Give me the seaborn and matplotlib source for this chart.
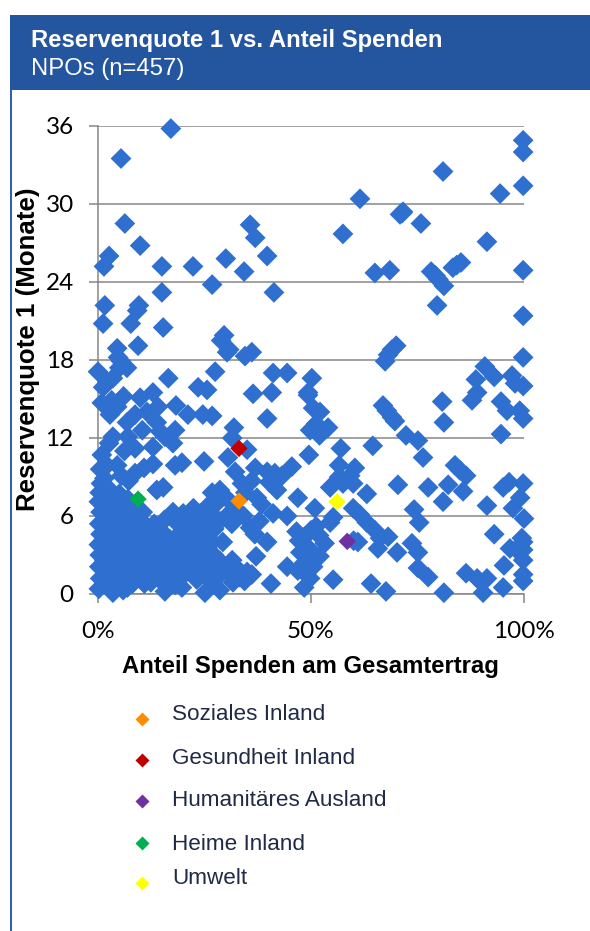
import matplotlib
matplotlib.use("Agg")
import matplotlib.pyplot as plt
from matplotlib.lines import Line2D
from matplotlib.patches import Rectangle
import pandas as pd
import seaborn as sns

W, H = 590, 931
title = "Reservenquote 1 vs. Anteil Spenden"
subtitle = "NPOs (n=457)"
x_label = "Anteil Spenden am Gesamtertrag"
y_label = "Reservenquote 1 (Monate)"
y_ticks = [0, 6, 12, 18, 24, 30, 36]
x_ticks = [0, 50, 100]
x_tick_labels = ["0%", "50%", "100%"]

# (Anteil Spenden %, Reservenquote Monate)
upper = [(17.1,35.8),(5.4,33.5),(6.3,28.5),(9.9,26.8),(2.6,26.0),(1.4,25.2),(15,25.2),(22.3,25.2),(30,25.8),
 (34.3,24.8),(35.7,28.4),(36.9,27.4),(39.7,26),(26.8,23.8),(15,23.2),(41.3,23.2),(1.6,22.2),(9.6,22.2),(9.2,21.8),
 (1.2,20.8),(7.7,20.8),(15.3,20.5),(29.6,19.9),(28.9,19.5),(30.8,18.8),(9.4,19.1),(4.5,18.9),(36.1,18.6),(34.5,18.3),
 (99.8,34.9),(99.8,34),(81,32.5),(99.8,31.4),(94.4,30.8),(61.5,30.4),(71.4,29.3),(71.6,29.4),(70.9,29.2),(75.8,28.5),
 (57.5,27.7),(91.3,27.1),(85.2,25.5),(83.3,25.1),(84.2,25.3),(99.8,24.9),(68.5,24.9),(65,24.7),(78.2,24.8),(79.2,24.5),
 (79.9,24.2),(81.2,23.7),(79.6,22.2),(99.8,21.4),(70,19.1),(69,18.8),(68.1,18.4),(67.4,17.9),(99.8,18.2)]

middle = [(50.2,16.6),(49.3,15.5),(80.8,14.8),(90.8,17.5),(88.7,16.5),(93,16.7),(97.2,16.8),(97.9,16.2),(99.8,16),
 (89,15.5),(87.8,14.9),(94.6,14.8),(49.3,15.3),(52.1,14),(50.5,14.3),(50.5,12.8),(49.8,12.6),(52,12.2),(54,12.8),
 (51.2,13.1),(66.9,14.5),(67.8,14.1),(69,13.6),(69.7,13.3),(81.2,13.2),(96,14.1),(99,14.1),(99.8,13.5),(94.6,12.3),
 (64.5,11.4),(72.3,12.2),(75.1,11.8),(76.3,10.5),(57,11.2),(49.5,10.7),(56.6,9.9),(60.3,9.7),(59.2,9.1),(83.8,9.9),
 (85,9.5),(86.4,9.1),(56.6,9),(54.5,8.2),(57.5,8.5),(59.9,8.5),(70.4,8.4),(77.5,8.2),(82.2,8.4),(85.7,7.9),(81,7.1),
 (63.1,7.7),(95.1,8.2),(96.5,8.6),(99.8,8.5),(99.1,7.4),(97.4,6.6),(91.3,6.8),(74.2,6.5),(50.9,6.6),
 (0,17.1),(4.7,18.2),(6.8,17.4),(5.4,17.9),(5,17.4),(3.5,16.6),(1.2,15.9),(0.9,14.7),(4.5,14.4),(2.8,13.8),(8.7,13.8),
 (6.8,13.2),(14.1,14.4),(13.8,13.2),(18.1,12.6),(14.6,12.5),(17.6,11.6),(3.5,12.1),(7,12.1),(8.7,11.2),(12.9,11.3),
 (15.7,12.1),(16.5,16.6),(27.5,17.1),(30.3,18.6),(41.1,17),(44.4,17),(23.5,15.9),(25.6,15.7),(36.4,15.4),(40.8,15.5),
 (39.7,13.5),(9.9,15.1),(12.9,15.5),(18.3,14.5),(21.1,13.8),(24.6,13.8),(26.8,13.7),(31.9,12.8),(31.5,12),(35,11.1),
 (30.5,10.5),(24.9,10.2),(18.1,9.9),(19.7,10.1),(12.9,10),(32.2,9.4),(36.9,9.7),(39.7,9.4),(41.5,9.3),(45.5,9.8),
 (42,8),(46.9,7.4),(37.3,7.4),(33.8,8.5),(28.6,8),(26.8,7.8),(15.3,8.2),(13.8,8),(0.9,10.7),(4.5,9.9),(8.7,9.3),
 (0.5,9.6),(2.1,9.9),(1.5,8.9),(5.5,9.1),(7.2,8.7),(10.8,9.7),(6.2,11),(2.6,11.6),(10.4,12.6),(11.5,14),(6,15.2),
 (3.2,14.9),(2.2,16.3),(34.6,7.8),(36.1,8.7),(38.4,6.9),(40.2,8.6),(43.2,9.1)]

lower_right = [(75.4,5.5),(100,5.8),(54.5,5.5),(55.2,5.9),(59.9,6.6),(61.5,6.1),(63.1,5.5),(65,4.9),(66.2,4.3),(68.1,4.4),
 (65.7,3.5),(70.2,3.2),(73.7,3.9),(75.1,3.2),(75.1,2),(77.5,1.3),(55.2,1.1),(64.1,0.8),(67.6,0.2),(81.2,0.1),(86.4,1.6),
 (89,1.2),(91.3,1.2),(90.4,0.1),(95.1,0.5),(95.3,2.2),(93,4.6),(96.7,3.5),(99.5,4.3),(99.8,4.0),(99.8,3.4),(99.8,2.6),
 (99.8,1.5),(99.8,1.0),(98.3,3.4),(61,4.0),(60,4.1),(50,4.9),(48.5,4.4),(49.2,3.6),(47.5,3.2),(50.6,3.1),(51.9,4.5),
 (53.2,3.9),(48.4,2.4),(50.5,2.1),(52,2.9),(49.8,1.2),(48.4,0.5),(46.9,1.8),(44.4,2.1),(47.2,4.1),(51.2,5.2),(46.6,4.8)]

left_blob = [(0.2,0.4),(0.5,1.2),(0.3,2.1),(0.4,3.0),(0.2,3.8),(0.6,4.6),(0.3,5.4),(0.6,6.3),(0.2,7.1),(0.4,7.8),(0.7,8.5),
 (1.6,0.8),(1.9,1.7),(1.5,2.6),(1.8,3.4),(1.4,4.2),(1.9,5.1),(1.6,6.0),(1.9,6.9),(1.5,7.6),(2.2,8.2),
 (3.2,0.5),(3.5,0.1),(3.4,1.3),(3.1,2.2),(3.6,3.0),(3.2,3.8),(3.7,4.7),(3.3,5.6),(3.8,6.4),(3.2,7.2),
 (4.9,0.9),(5.2,1.8),(4.7,2.6),(5.1,3.5),(4.8,4.3),(5.3,5.2),(4.9,6.0),(5.4,6.8),(5.9,0.3),(5.0,7.7),
 (6.5,1.3),(6.9,2.2),(6.4,3.1),(6.8,3.9),(6.3,4.8),(6.9,5.6),(6.5,6.4),(6.9,0.5),(7.0,7.3),
 (8.1,0.8),(8.4,1.7),(8.0,2.6),(8.5,3.4),(8.1,4.3),(8.6,5.1),(8.2,5.9),(8.5,6.6),
 (9.8,1.2),(10.1,2.1),(9.7,3.0),(10.2,3.9),(9.8,4.7),(10.3,5.6),(10.9,0.8),(10.5,6.3),
 (11.5,1.6),(11.8,2.4),(11.4,3.2),(11.9,4.1),(11.6,4.9),(12.4,0.9),(13.1,1.9),(13.4,2.8),(13.0,3.7),(13.5,4.6),(13.2,5.4),
 (14.5,1.1),(15.7,0.2),(14.9,2.2),(15.2,3.0),(14.8,3.9),(15.3,4.7),(15.6,5.7),(16.4,1.3),(16.8,2.3),(16.3,3.3),(16.9,4.2),
 (17.6,6.3),(18.1,0.7),(18.3,1.7),(18.6,2.7),(18.2,3.6),(18.7,4.5),(18.4,5.5),(19.7,0.5),(20.2,1.5),(20.0,2.5),(20.4,3.4),
 (19.9,4.4),(20.3,5.3),(20.0,6.2),(21.6,2.0),(21.9,2.9),(21.5,3.9),(22.0,4.8),(21.7,5.8),(22.4,6.6),(23.2,1.1),(23.5,2.3),
 (23.3,3.3),(23.7,4.3),(23.4,5.3),(24.0,6.2),(25.1,0.1),(25.2,1.4),(25.4,2.4),(25.1,3.3),(25.5,4.4),(25.2,5.4),(25.6,6.7),
 (27.0,0.9),(26.8,2.0),(27.2,3.0),(26.9,4.0),(27.3,5.0),(27.0,6.0),(28.6,0.3),(28.4,1.4),(28.7,2.5),(29.3,4),(28.6,5.6),
 (28.2,7.1),(30.3,1.8),(31.7,0.9),(33.3,1.3),(30.5,6.1),(31.4,5.4),(32.1,6.6),(32.5,2.0),(33.7,1.6),(35.7,5.1),(34.2,6.0),
 (36.8,4.6),(39.7,4.0),(37.1,2.9),(40.6,0.8),(44.4,6),(41.1,6.2),(37.9,5.6),(30.1,7.4),(35.0,1.7),(36.1,1.5),(34.4,1.0),(31.5,2.6)]

highlight_names = ["Soziales Inland", "Gesundheit Inland", "Humanitäres Ausland", "Heime Inland", "Umwelt"]
highlight_x = [33.1, 33.1, 58.5, 9.4, 56.1]
highlight_y = [7.15, 11.2, 4.05, 7.3, 7.1]
highlight_colors = ["#FF8C00", "#C00000", "#7030A0", "#00B050", "#FFFF00"]

blue = "#2E6FD0"
grey = "#868686"
header = "#24569F"

sns.set_theme(style="white")
plt.rcParams["font.family"] = ["Liberation Sans", "DejaVu Sans"]

fig = plt.figure(figsize=(W / 100, H / 100), dpi=100, facecolor="white")
ax = fig.add_axes([98 / W, 1 - 594 / H, 426 / W, 468 / H])

rows = upper + middle + lower_right + left_blob
df = pd.DataFrame(rows, columns=["x", "y"])
sns.scatterplot(data=df, x="x", y="y", marker="D", s=112, color=blue, edgecolor="none",
                linewidth=0, clip_on=False, zorder=3, ax=ax, legend=False)
df_h = pd.DataFrame({"x": highlight_x, "y": highlight_y, "name": highlight_names})
sns.scatterplot(data=df_h, x="x", y="y", hue="name", palette=dict(zip(highlight_names, highlight_colors)),
                marker="D", s=78, edgecolor="none", linewidth=0, clip_on=False, zorder=4, ax=ax, legend=False)

ax.set_xlim(0, 100)
ax.set_ylim(0, 36)
ax.set_xticks(x_ticks)
ax.set_xticklabels(x_tick_labels)
ax.set_yticks(y_ticks)
ax.grid(axis="y", color=grey, lw=1.1, zorder=1)
ax.grid(axis="x", visible=False)
ax.set_axisbelow(True)
for s in ["top", "right"]:
    ax.spines[s].set_visible(False)
for s in ["left", "bottom"]:
    ax.spines[s].set_color(grey)
    ax.spines[s].set_linewidth(1.1)
ax.tick_params(axis="both", length=6.5, width=1.1, color=grey, direction="out", bottom=True, left=True,
               labelsize=17.5, labelcolor="black")
for lab in ax.get_xticklabels() + ax.get_yticklabels():
    lab.set_family(["Lato", "DejaVu Sans"])
ax.tick_params(axis="x", pad=13)
ax.tick_params(axis="y", pad=11)
ax.set_xlabel("")
ax.set_ylabel("")

# header band and frame
fig.add_artist(Rectangle((10 / W, 1 - 90 / H), 580 / W, 75 / H, transform=fig.transFigure, color=header, lw=0, zorder=0))
fig.add_artist(Rectangle((10 / W, 0), 1.6 / W, 1 - 90 / H, transform=fig.transFigure, color="#2A62B5", lw=0, zorder=0))
fig.text(31 / W, 1 - 41 / H, title, color="white", fontsize=17.2, fontweight="bold", va="center", ha="left")
fig.text(31 / W, 1 - 69 / H, subtitle, color="white", fontsize=17.2, va="center", ha="left")

fig.text(310 / W, 1 - 667 / H, x_label, color="black", fontsize=17.2, fontweight="bold", ha="center", va="center")
fig.text(28 / W, 1 - 349 / H, y_label, color="black", fontsize=18.6, fontweight="bold", rotation=90, ha="center", va="center")

# hand-placed key
marker_y = [719, 760, 801, 843, 883]
text_y = [714, 758, 800, 844, 879]
for name, col, my, ty in zip(highlight_names, highlight_colors, marker_y, text_y):
    fig.add_artist(Line2D([142 / W], [1 - my / H], marker="D", ms=7, color=col, mec="none", ls="none",
                          transform=fig.transFigure))
    fig.text(172 / W, 1 - ty / H, name, color="#1F2A44", fontsize=16.2, ha="left", va="center")

fig.savefig("out.png", dpi=100)
